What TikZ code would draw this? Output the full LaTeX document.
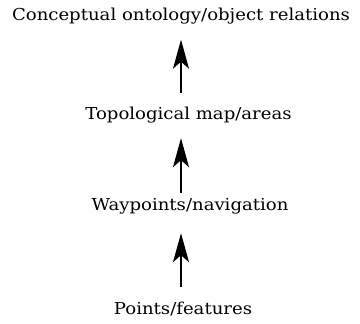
\documentclass[tikz,border=0pt]{standalone}
\usepackage{fontspec}
\setmainfont{DejaVu Serif}[FakeStretch=1.1]
\usetikzlibrary{arrows.meta}
\begin{document}
\begin{tikzpicture}[x=1bp,y=-1bp,
  lvl/.style={inner sep=0pt,anchor=base,text height=12bp,text depth=4bp,font=\fontsize{16.5}{20}\selectfont},
  up/.style={line width=1.4bp,-{Stealth[length=29bp,width=16bp,inset=7bp]}}]
\useasboundingbox (0,0) rectangle (360,324);
\node[lvl] (a) at (181,20.5) {Conceptual ontology/object relations};
\node[lvl] (b) at (188.5,119.5) {Topological map/areas};
\node[lvl] (c) at (190,210) {Waypoints/navigation};
\node[lvl] (d) at (183,314) {Points/features};
\draw[up,shorten <=14.5bp,shorten >=15bp] (a.south |- b.north) -- (a.south);
\draw[up,shorten <=5.3bp,shorten >=14.5bp] (a.south |- c.north) -- (a.south |- b.south);
\draw[up,shorten <=15bp,shorten >=19bp] (a.south |- d.north) -- (a.south |- c.south);
\end{tikzpicture}
\end{document}
